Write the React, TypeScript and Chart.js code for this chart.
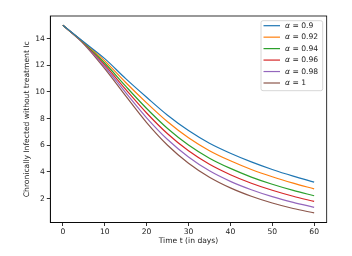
import React, { useEffect, useRef } from "react";
import { Chart, registerables } from "chart.js";

Chart.register(...registerables);

const days = [0, 5, 10, 15, 20, 25, 30, 35, 40, 45, 50, 55, 60];
const alphaLabels = ["0.9", "0.92", "0.94", "0.96", "0.98", "1"];
const seriesA090 = [15, 13.75, 12.5, 11.0, 9.6, 8.25, 7.1, 6.15, 5.4, 4.75, 4.18, 3.68, 3.23];
const seriesA092 = [15, 13.72, 12.33, 10.71, 9.18, 7.76, 6.56, 5.59, 4.83, 4.18, 3.63, 3.15, 2.72];
const seriesA094 = [15, 13.68, 12.17, 10.43, 8.76, 7.26, 6.02, 5.03, 4.26, 3.61, 3.07, 2.61, 2.21];
const seriesA096 = [15, 13.66, 12.03, 10.19, 8.42, 6.86, 5.58, 4.57, 3.79, 3.15, 2.62, 2.17, 1.78];
const seriesA098 = [15, 13.63, 11.89, 9.95, 8.06, 6.43, 5.12, 4.08, 3.29, 2.66, 2.14, 1.71, 1.34];
const seriesA100 = [15, 13.6, 11.75, 9.7, 7.7, 6.0, 4.65, 3.6, 2.8, 2.17, 1.66, 1.25, 0.92];
const xTicks = [0, 10, 20, 30, 40, 50, 60];
const yTicks = [2, 4, 6, 8, 10, 12, 14];

const allSeries = [seriesA090, seriesA092, seriesA094, seriesA096, seriesA098, seriesA100];
const colors = ["#1f77b4", "#ff7f0e", "#2ca02c", "#d62728", "#9467bd", "#8c564b"];

const FONT = "DejaVu Sans";
const FS = 7.6;

const framePlugin = {
  id: "frameAndLegend",
  afterDraw(chart: any) {
    const { ctx, chartArea } = chart;
    const { left, right, top, bottom } = chartArea;
    ctx.save();
    ctx.strokeStyle = "#000";
    ctx.lineWidth = 0.8;
    ctx.strokeRect(left, top, right - left, bottom - top);

    // legend
    const bx = 261, by = 20.7, bw = 61.7, bh = 70;
    ctx.fillStyle = "rgba(255,255,255,0.8)";
    ctx.strokeStyle = "#cccccc";
    ctx.lineWidth = 0.8;
    ctx.beginPath();
    const r = 2;
    ctx.moveTo(bx + r, by);
    ctx.lineTo(bx + bw - r, by);
    ctx.quadraticCurveTo(bx + bw, by, bx + bw, by + r);
    ctx.lineTo(bx + bw, by + bh - r);
    ctx.quadraticCurveTo(bx + bw, by + bh, bx + bw - r, by + bh);
    ctx.lineTo(bx + r, by + bh);
    ctx.quadraticCurveTo(bx, by + bh, bx, by + bh - r);
    ctx.lineTo(bx, by + r);
    ctx.quadraticCurveTo(bx, by, bx + r, by);
    ctx.closePath();
    ctx.fill();
    ctx.stroke();

    chart.data.datasets.forEach((ds: any, i: number) => {
      const y = 25.7 + i * 11.46;
      ctx.strokeStyle = ds.borderColor;
      ctx.lineWidth = 1.2;
      ctx.beginPath();
      ctx.moveTo(263.5, y);
      ctx.lineTo(280, y);
      ctx.stroke();
      ctx.fillStyle = "#222";
      ctx.textBaseline = "middle";
      ctx.textAlign = "left";
      ctx.font = `italic ${FS}px ${FONT}`;
      ctx.fillText("α", 285, y);
      const w = ctx.measureText("α").width;
      ctx.font = `${FS}px ${FONT}`;
      ctx.fillText(" = " + ds.alpha, 285 + w, y);
    });
    ctx.restore();
  },
};

export default function App() {
  const ref = useRef<HTMLCanvasElement | null>(null);
  useEffect(() => {
    document.body.style.margin = "0";
    const canvas = ref.current!;
    const chart = new Chart(canvas, {
      type: "line",
      data: {
        datasets: allSeries.map((s, i) => ({
          label: "α = " + alphaLabels[i],
          alpha: alphaLabels[i],
          data: s.map((v, j) => ({ x: days[j], y: v })),
          borderColor: colors[i],
          backgroundColor: colors[i],
          borderWidth: 1.2,
          pointRadius: 0,
          fill: false,
          cubicInterpolationMode: "monotone",
        })) as any,
      },
      options: {
        animation: false,
        responsive: false,
        devicePixelRatio: 1,
        layout: { padding: { left: 22, right: 25.3, top: 16, bottom: 10.5 } },
        plugins: { legend: { display: false }, tooltip: { enabled: false } },
        scales: {
          x: {
            type: "linear",
            min: -3,
            max: 63,
            afterBuildTicks: (scale: any) => {
              scale.ticks = xTicks.map((v) => ({ value: v }));
            },
            afterFit: (scale: any) => {
              scale.height = 23;
            },
            grid: { display: true, drawOnChartArea: false, drawTicks: true, tickLength: 3.5, color: "#000", lineWidth: 0.8 },
            border: { display: true, color: "#000", width: 0.8 },
            ticks: { color: "#222", font: { family: FONT, size: FS }, padding: 1.5, maxRotation: 0, autoSkip: false },
            title: { display: true, text: "Time t (in days)", color: "#222", font: { family: FONT, size: FS }, padding: 0 },
          },
          y: {
            type: "linear",
            min: 0.2,
            max: 15.7,
            afterBuildTicks: (scale: any) => {
              scale.ticks = yTicks.map((v) => ({ value: v }));
            },
            afterFit: (scale: any) => {
              scale.width = 28.3;
            },
            grid: { display: true, drawOnChartArea: false, drawTicks: true, tickLength: 3.5, color: "#000", lineWidth: 0.8 },
            border: { display: true, color: "#000", width: 0.8 },
            ticks: { color: "#222", font: { family: FONT, size: FS }, padding: 2, autoSkip: false },
            title: { display: true, text: "Chronically Infected without treatment Ic", color: "#222", font: { family: FONT, size: FS }, padding: 0 },
          },
        },
      } as any,
      plugins: [framePlugin],
    });
    return () => chart.destroy();
  }, []);
  return (
    <div style={{ width: 352, height: 256 }}>
      <canvas ref={ref} width={352} height={256} style={{ display: "block" }} />
    </div>
  );
}
